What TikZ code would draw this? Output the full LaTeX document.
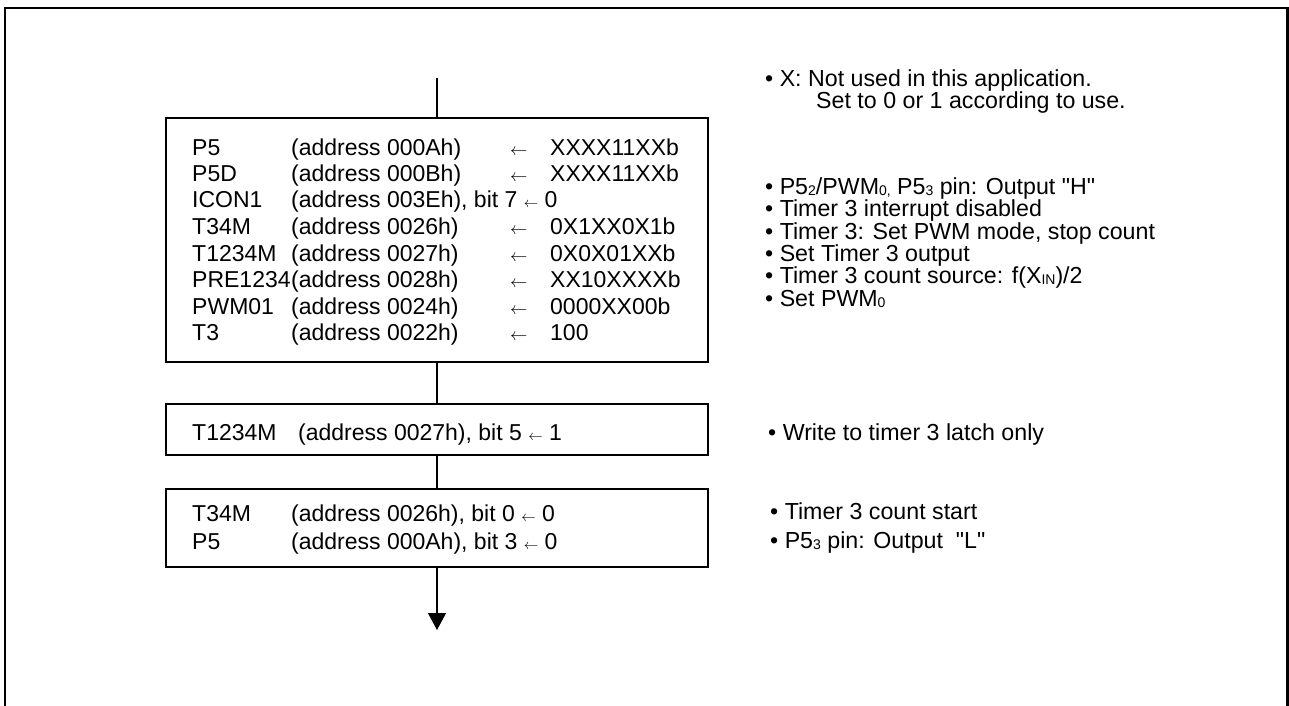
\documentclass[tikz,border=0pt]{standalone}
\usepackage{fontspec}
\setmainfont{Liberation Sans}[Ligatures=TeXOff]
\usetikzlibrary{arrows.meta}
\newcommand\arr{{\fontsize{18}{18}\selectfont$\leftarrow$}}
\newcommand\sarr{{\fontsize{14}{14}\selectfont$\leftarrow$}}
\newcommand\sbs[1]{\raisebox{-1pt}{\fontsize{14}{14}\selectfont #1}}
\newcommand\regrow[4]{\makebox[99pt][l]{#1}\makebox[219pt][l]{#2}\makebox[40pt][l]{#3}#4}
\begin{document}
\begin{tikzpicture}[x=1pt,y=-1pt,
  box/.style={draw,line width=1.2pt,minimum width=542pt,inner sep=0pt},
  btxt/.style={anchor=base west,inner sep=0pt,font=\fontsize{23}{26}\selectfont},
  note/.style={anchor=base west,inner sep=0pt,font=\fontsize{23.2}{22}\selectfont},
  flow/.style={line width=1.2pt}]
\useasboundingbox (0,0) rectangle (1289,706);
\draw[line width=2.5pt] (5,706) -- (5,8) -- (1287.5,8) -- (1287.5,706);
% boxes
\node[box,minimum height=244pt] (b1) at (437,240) {};
\node[box,minimum height=51pt] (b2) at (437,429.5) {};
\node[box,minimum height=78pt] (b3) at (437,528) {};
% connectors
\coordinate (start) at (437,78);
\coordinate (end) at (437,630);
\draw[flow] (start) -- (b1);
\draw[flow] (b1) -- (b2);
\draw[flow] (b2) -- (b3);
\draw[flow,-{Triangle[width=18pt,length=17pt]}] (b3) -- (end);
% box 1 text
\node[btxt] (r1) at (192,155) {\regrow{P5}{(address 000Ah)}{\arr}{XXXX11XXb}};
\node[btxt] (r2) at (192,181) {\regrow{P5D}{(address 000Bh)}{\arr}{XXXX11XXb}};
\node[btxt] (r3) at (192,207) {\makebox[99pt][l]{ICON1}(address 003Eh), bit 7 \sarr{} 0};
\node[btxt] (r4) at (192,234) {\regrow{T34M}{(address 0026h)}{\arr}{0X1XX0X1b}};
\node[btxt] (r5) at (192,261) {\regrow{T1234M}{(address 0027h)}{\arr}{0X0X01XXb}};
\node[btxt] (r6) at (192,287) {\regrow{PRE1234}{(address 0028h)}{\arr}{XX10XXXXb}};
\node[btxt] (r7) at (192,314) {\regrow{PWM01}{(address 0024h)}{\arr}{0000XX00b}};
\node[btxt] (r8) at (192,340) {\regrow{T3}{(address 0022h)}{\arr}{100}};
% box 2 text
\node[btxt] (s1) at (192,440) {\makebox[106pt][l]{T1234M}(address 0027h), bit 5 \sarr{} 1};
% box 3 text
\node[btxt] (u1) at (192,521) {\makebox[99pt][l]{T34M}(address 0026h), bit 0 \sarr{} 0};
\node[btxt] (u2) at (192,549) {\makebox[99pt][l]{P5}(address 000Ah), bit 3 \sarr{} 0};
% notes
\node[note] (n1) at (765,87) {\textbullet{} X: Not used in this application.};
\node[note] (n2) at (816,109) {Set to 0 or 1 according to use.};
\node[note] (n3) at (765,194) {\textbullet{} P5\sbs{2}/PWM\sbs{0,} P5\sbs{3} pin: Output "H"};
\node[note] (n4) at (765,216.5) {\textbullet{} Timer 3 interrupt disabled};
\node[note] (n5) at (765,239) {\textbullet{} Timer 3: Set PWM mode, stop count};
\node[note] (n6) at (765,261.5) {\textbullet{} Set Timer 3 output};
\node[note] (n7) at (765,283.6) {\textbullet{} Timer 3 count source: f(X\sbs{IN})/2};
\node[note] (n8) at (765,306) {\textbullet{} Set PWM\sbs{0}};
\node[note] (n9) at (768,440) {\textbullet{} Write to timer 3 latch only};
\node[note] (n10) at (770,519) {\textbullet{} Timer 3 count start};
\node[note] (n11) at (770,548) {\textbullet{} P5\sbs{3} pin: Output\ \ "L"};
\end{tikzpicture}
\end{document}
